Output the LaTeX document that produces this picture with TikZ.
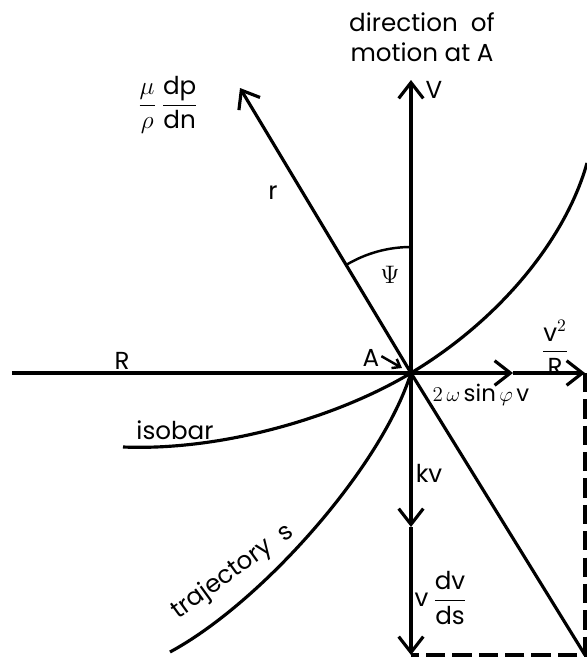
\documentclass[tikz,border=0pt]{standalone}
\usepackage{amsmath}
\usepackage{fontspec}
\setmainfont{Poppins}
\usetikzlibrary{arrows.meta}

\begin{document}
\begin{tikzpicture}[>={Straight Barb[length=9pt,width=14pt]},
  vec/.style={line width=1.8pt,->},
  curve/.style={line width=1.8pt},
  lbl/.style={font=\fontsize{14}{17}\selectfont,inner sep=1pt}]
  \useasboundingbox (-8.22,-5.72) rectangle (3.52,7.46);
  \coordinate (A) at (0,0);
  \coordinate (Rend) at (-7.98,0);
  \coordinate (cor) at (2.04,0);
  \coordinate (cent) at (3.48,0);
  \coordinate (Vtip) at (0,5.86);
  \coordinate (gtip) at (-3.42,5.7);
  \coordinate (kvtip) at (0,-3.08);
  \coordinate (bot) at (0,-5.64);
  \coordinate (corner) at (3.48,-5.64);
  \coordinate (aend) at (-0.18,0.1);
  \node[lbl,align=center] (dir) at (0.22,6.71) {direction\ \ of\\motion at A};
  \node[lbl] (V) at (0.46,5.66) {V};
  \node[lbl] (grad) at (-4.86,5.36) {$\displaystyle\frac{\mu}{\rho}\,\frac{\mbox{dp}}{\mbox{dn}}$};
  \node[lbl] (r) at (-2.76,3.6) {r};
  \node[lbl] (psi) at (-0.42,1.96) {$\Psi$};
  \node[lbl] (Rlab) at (-5.78,0.24) {R};
  \node[lbl] (alab) at (-0.8,0.3) {A};
  \node[lbl,font=\fontsize{13}{16}\selectfont] (corlab) at (1.4,-0.44) {$2\,\omega\,\mbox{sin}\,\varphi\,\mbox{v}$};
  \node[lbl] (centlab) at (2.88,0.5) {$\displaystyle\frac{\mbox{v}^2}{\mbox{R}}$};
  \node[lbl] (kv) at (0.36,-2.0) {kv};
  \node[lbl] (vdvds) at (0.6,-4.5) {$\mbox{v}\,\displaystyle\frac{\mbox{dv}}{\mbox{ds}}$};
  \node[lbl] (iso) at (-4.72,-1.14) {isobar};
  \node[lbl,rotate=36] (traj) at (-3.56,-3.98) {trajectory\ \ s};
  \draw[curve] (Rend) -- (A);
  \draw[vec] (A) -- (cor);
  \draw[vec] (cor) -- (cent);
  \draw[vec] (A) -- (Vtip);
  \draw[vec] (A) -- (gtip);
  \draw[vec] (A) -- (kvtip);
  \draw[vec] (kvtip) -- (bot);
  \draw[curve] (A) -- (corner);
  \draw[curve,dash pattern=on 11pt off 4pt] (cent) -- (corner) -- (bot);
  \draw[line width=1.4pt] (0,2.52) arc[start angle=90,end angle=121,radius=2.52];
  \draw[line width=1.4pt,-{Straight Barb[length=4pt,width=6pt]}] (alab.10) -- (aend);
  \draw[curve] (-5.76,-1.48) .. controls (-3.8,-1.56) and (-1.5,-0.9) .. (A)
    .. controls (1.8,1.08) and (3.1,2.7) .. (3.52,4.2);
  \draw[curve] (-4.82,-5.58) .. controls (-3.0,-4.6) and (-0.6,-1.9) .. (A);
\end{tikzpicture}
\end{document}
